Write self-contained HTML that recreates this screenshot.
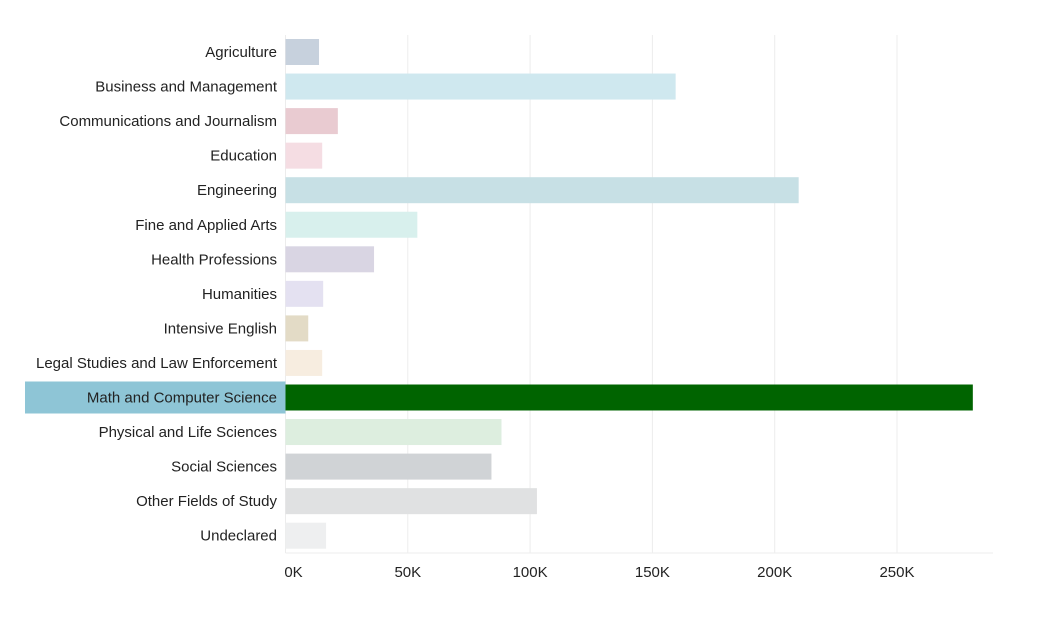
<!DOCTYPE html>
<html><head><meta charset="utf-8"><style>
body{margin:0;background:#fff;font-family:"Liberation Sans",sans-serif;}
svg{display:block}
</style></head><body>
<svg id="chart" width="1039" height="622"></svg>
<script>
const categories=["Agriculture","Business and Management","Communications and Journalism","Education","Engineering","Fine and Applied Arts","Health Professions","Humanities","Intensive English","Legal Studies and Law Enforcement","Math and Computer Science","Physical and Life Sciences","Social Sciences","Other Fields of Study","Undeclared"];
const values=[13700,159500,21400,15000,209800,53900,36200,15400,9300,15000,281000,88300,84200,102800,16600];
const barColors=["#c7d1dd","#cfe8ef","#e9cbd1","#f5dde3","#c7e0e5","#d8f0ed","#d9d5e3","#e4e1f1","#e3dbc6","#f7ede0","#006400","#ddeedf","#d0d3d6","#e0e1e2","#eeeff0"];
const tickValues=[0,50000,100000,150000,200000,250000];
const tickLabels=["0K","50K","100K","150K","200K","250K"];
const highlighted=10;
const NS="http://www.w3.org/2000/svg";
const svg=document.getElementById('chart');
const x0=285.5,pxPer=122.3/50000,top0=39,step=34.55,bh=26,axisY=553;
const xs=v=>x0+v*pxPer;
const yc=i=>top0+i*step;
function mk(t,a){const e=document.createElementNS(NS,t);for(const k in a)e.setAttribute(k,a[k]);svg.appendChild(e);return e;}
tickValues.forEach((v,i)=>{
  const g=mk('line',{x1:xs(v),x2:xs(v),y1:35,y2:axisY,stroke:'#ececec','stroke-width':1});
  
  
  const t=mk('text',{x:xs(v)+(i==0?8:0),y:577,'text-anchor':'middle','font-size':15,fill:'#222'});
  t.textContent=tickLabels[i];
  
  
});
const ax=mk('line',{x1:x0,x2:993,y1:axisY,y2:axisY,stroke:'#eeeeee'});


categories.forEach((c,i)=>{
  const y=yc(i);
  if(i===highlighted){
    const h=mk('rect',{x:25,y:y-3,width:x0-25,height:bh+6,fill:'#8ec5d6'});
    
    
  }
  const r=mk('rect',{x:x0,y:y,width:xs(values[i])-x0,height:bh,fill:barColors[i]});
  
  
  const t=mk('text',{x:277,y:y+bh/2+5,'text-anchor':'end','font-size':15,fill:'#222'});
  t.textContent=c;
  
  
});
</script>
</body></html>
